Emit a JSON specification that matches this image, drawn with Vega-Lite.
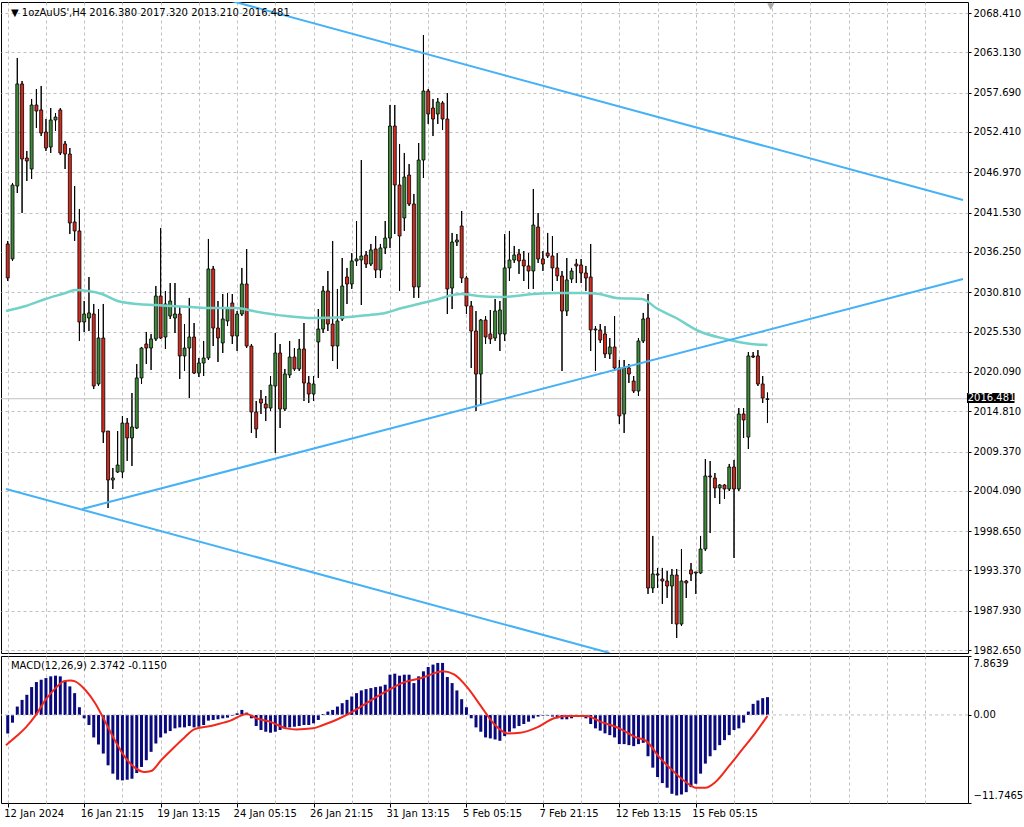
{
"$schema":"https://vega.github.io/schema/vega-lite/v6.json",
"padding":{"left":0,"top":1,"right":0,"bottom":0},
"background":"white",
"bounds":"flush",
"spacing":3,
"config":{"view":{"stroke":"#000","strokeWidth":1},"axis":{"labelFont":"DejaVu Sans","labelFontSize":10,"labelColor":"#000","gridColor":"#c0c0c0","gridDash":[3,3],"gridWidth":1,"tickColor":"#000","domain":false,"labelFlush":false,"labelOverlap":false}},
"datasets":{
"bars":[
{"bar":0,"o":2037.32,"h":2037.72,"l":2032.33,"c":2032.74,"m":-2.46},
{"bar":1,"o":2035.30,"h":2045.53,"l":2035.03,"c":2045.26,"m":-1.03},
{"bar":2,"o":2045.12,"h":2062.36,"l":2044.18,"c":2058.86,"m":1.12},
{"bar":3,"o":2058.86,"h":2059.26,"l":2041.49,"c":2048.76,"m":2.01},
{"bar":4,"o":2048.89,"h":2049.84,"l":2045.80,"c":2048.49,"m":2.69},
{"bar":5,"o":2047.41,"h":2056.84,"l":2046.07,"c":2056.03,"m":3.72},
{"bar":6,"o":2056.03,"h":2058.18,"l":2052.93,"c":2055.22,"m":4.39},
{"bar":7,"o":2055.36,"h":2058.59,"l":2051.85,"c":2052.26,"m":4.70},
{"bar":8,"o":2052.39,"h":2054.14,"l":2049.84,"c":2050.24,"m":4.92},
{"bar":9,"o":2050.37,"h":2055.62,"l":2049.57,"c":2054.01,"m":5.15},
{"bar":10,"o":2054.01,"h":2054.95,"l":2052.53,"c":2054.41,"m":5.24},
{"bar":11,"o":2055.36,"h":2055.62,"l":2049.30,"c":2049.57,"m":5.15},
{"bar":12,"o":2050.78,"h":2051.18,"l":2047.41,"c":2049.43,"m":4.61},
{"bar":13,"o":2049.43,"h":2050.24,"l":2038.66,"c":2040.14,"m":3.81},
{"bar":14,"o":2040.28,"h":2045.12,"l":2037.72,"c":2039.07,"m":2.91},
{"bar":15,"o":2039.07,"h":2042.03,"l":2024.26,"c":2026.81,"m":1.03},
{"bar":16,"o":2026.81,"h":2029.64,"l":2025.47,"c":2027.89,"m":-0.45},
{"bar":17,"o":2027.35,"h":2032.87,"l":2025.60,"c":2028.03,"m":-1.34},
{"bar":18,"o":2027.89,"h":2029.24,"l":2017.79,"c":2018.20,"m":-3.00},
{"bar":19,"o":2018.47,"h":2028.56,"l":2018.20,"c":2024.66,"m":-3.94},
{"bar":20,"o":2024.66,"h":2029.24,"l":2010.52,"c":2012.00,"m":-5.15},
{"bar":21,"o":2012.14,"h":2012.14,"l":2001.77,"c":2005.54,"m":-6.72},
{"bar":22,"o":2005.54,"h":2007.16,"l":2004.33,"c":2005.81,"m":-7.83},
{"bar":23,"o":2006.62,"h":2012.14,"l":2006.48,"c":2007.56,"m":-8.64},
{"bar":24,"o":2006.62,"h":2014.16,"l":2005.81,"c":2013.21,"m":-8.73},
{"bar":25,"o":2013.21,"h":2013.89,"l":2008.10,"c":2011.20,"m":-8.64},
{"bar":26,"o":2011.20,"h":2017.25,"l":2007.43,"c":2012.68,"m":-8.51},
{"bar":27,"o":2012.54,"h":2021.16,"l":2012.41,"c":2019.28,"m":-7.75},
{"bar":28,"o":2019.28,"h":2023.45,"l":2018.47,"c":2023.31,"m":-6.94},
{"bar":29,"o":2023.85,"h":2025.47,"l":2021.16,"c":2023.31,"m":-6.04},
{"bar":30,"o":2023.31,"h":2025.20,"l":2020.35,"c":2024.53,"m":-4.92},
{"bar":31,"o":2024.53,"h":2031.66,"l":2024.26,"c":2030.31,"m":-3.81},
{"bar":32,"o":2030.31,"h":2039.47,"l":2024.53,"c":2024.66,"m":-3.00},
{"bar":33,"o":2024.79,"h":2030.99,"l":2023.18,"c":2029.24,"m":-2.46},
{"bar":34,"o":2027.62,"h":2032.06,"l":2027.22,"c":2029.64,"m":-2.15},
{"bar":35,"o":2027.35,"h":2032.06,"l":2025.33,"c":2027.89,"m":-1.79},
{"bar":36,"o":2027.89,"h":2028.97,"l":2019.14,"c":2022.24,"m":-1.66},
{"bar":37,"o":2022.24,"h":2026.54,"l":2020.22,"c":2023.31,"m":-1.66},
{"bar":38,"o":2023.31,"h":2030.05,"l":2016.58,"c":2024.79,"m":-1.48},
{"bar":39,"o":2024.79,"h":2026.68,"l":2019.81,"c":2019.95,"m":-1.66},
{"bar":40,"o":2019.95,"h":2021.97,"l":2019.41,"c":2021.29,"m":-1.57},
{"bar":41,"o":2021.29,"h":2024.26,"l":2019.54,"c":2021.97,"m":-1.34},
{"bar":42,"o":2021.97,"h":2037.99,"l":2021.70,"c":2033.95,"m":-0.76},
{"bar":43,"o":2033.95,"h":2034.36,"l":2023.58,"c":2026.00,"m":-0.67},
{"bar":44,"o":2026.00,"h":2029.64,"l":2021.43,"c":2024.66,"m":-0.58},
{"bar":45,"o":2023.99,"h":2030.58,"l":2022.64,"c":2027.22,"m":-0.45},
{"bar":46,"o":2026.95,"h":2030.72,"l":2026.27,"c":2028.70,"m":-0.36},
{"bar":47,"o":2029.37,"h":2030.58,"l":2023.85,"c":2024.93,"m":-0.09},
{"bar":48,"o":2024.93,"h":2028.29,"l":2022.91,"c":2027.89,"m":0.22},
{"bar":49,"o":2027.89,"h":2034.09,"l":2027.62,"c":2031.93,"m":0.67},
{"bar":50,"o":2031.93,"h":2036.64,"l":2023.31,"c":2023.58,"m":0.31},
{"bar":51,"o":2023.58,"h":2023.85,"l":2011.87,"c":2014.70,"m":-0.45},
{"bar":52,"o":2014.70,"h":2016.18,"l":2011.20,"c":2012.41,"m":-1.48},
{"bar":53,"o":2016.45,"h":2017.66,"l":2014.43,"c":2015.91,"m":-2.01},
{"bar":54,"o":2015.77,"h":2016.85,"l":2013.48,"c":2015.23,"m":-2.24},
{"bar":55,"o":2015.23,"h":2019.54,"l":2014.83,"c":2018.33,"m":-2.37},
{"bar":56,"o":2018.20,"h":2025.33,"l":2009.18,"c":2022.64,"m":-2.24},
{"bar":57,"o":2022.64,"h":2023.85,"l":2012.54,"c":2015.10,"m":-2.01},
{"bar":58,"o":2015.10,"h":2020.49,"l":2014.83,"c":2019.81,"m":-1.79},
{"bar":59,"o":2019.68,"h":2024.26,"l":2019.28,"c":2022.10,"m":-1.66},
{"bar":60,"o":2022.10,"h":2023.31,"l":2020.22,"c":2020.49,"m":-1.57},
{"bar":61,"o":2020.49,"h":2024.53,"l":2020.22,"c":2023.18,"m":-1.48},
{"bar":62,"o":2023.18,"h":2026.68,"l":2016.18,"c":2018.60,"m":-1.34},
{"bar":63,"o":2018.60,"h":2019.54,"l":2015.91,"c":2017.12,"m":-1.34},
{"bar":64,"o":2017.12,"h":2019.54,"l":2016.18,"c":2018.47,"m":-1.12},
{"bar":65,"o":2024.12,"h":2028.56,"l":2019.28,"c":2025.87,"m":-0.67},
{"bar":66,"o":2025.87,"h":2031.66,"l":2025.33,"c":2030.99,"m":0.13},
{"bar":67,"o":2030.99,"h":2033.68,"l":2025.60,"c":2026.54,"m":0.45},
{"bar":68,"o":2026.54,"h":2037.72,"l":2021.56,"c":2023.58,"m":0.67},
{"bar":69,"o":2023.58,"h":2031.26,"l":2020.49,"c":2026.95,"m":1.12},
{"bar":70,"o":2027.22,"h":2035.43,"l":2026.95,"c":2031.66,"m":1.57},
{"bar":71,"o":2032.87,"h":2034.09,"l":2029.24,"c":2031.93,"m":2.01},
{"bar":72,"o":2031.93,"h":2036.10,"l":2031.26,"c":2035.03,"m":2.46},
{"bar":73,"o":2035.03,"h":2040.41,"l":2034.36,"c":2035.30,"m":2.91},
{"bar":74,"o":2035.16,"h":2048.62,"l":2029.10,"c":2035.70,"m":3.27},
{"bar":75,"o":2035.83,"h":2036.37,"l":2034.09,"c":2034.62,"m":3.45},
{"bar":76,"o":2034.62,"h":2037.32,"l":2034.36,"c":2036.51,"m":3.58},
{"bar":77,"o":2036.64,"h":2038.39,"l":2032.74,"c":2033.82,"m":3.72},
{"bar":78,"o":2033.82,"h":2037.32,"l":2032.74,"c":2036.78,"m":3.81},
{"bar":79,"o":2036.78,"h":2040.41,"l":2035.97,"c":2038.12,"m":4.03},
{"bar":80,"o":2038.12,"h":2056.03,"l":2036.78,"c":2053.20,"m":5.37},
{"bar":81,"o":2053.20,"h":2056.03,"l":2038.66,"c":2045.26,"m":5.51},
{"bar":82,"o":2045.26,"h":2050.78,"l":2030.99,"c":2038.39,"m":5.24},
{"bar":83,"o":2040.82,"h":2049.57,"l":2039.07,"c":2046.33,"m":5.37},
{"bar":84,"o":2046.60,"h":2048.08,"l":2042.43,"c":2042.70,"m":5.37},
{"bar":85,"o":2042.70,"h":2044.05,"l":2030.05,"c":2031.53,"m":4.25},
{"bar":86,"o":2031.53,"h":2050.91,"l":2030.05,"c":2048.62,"m":5.15},
{"bar":87,"o":2048.62,"h":2065.45,"l":2046.20,"c":2057.91,"m":5.82},
{"bar":88,"o":2057.91,"h":2058.18,"l":2053.47,"c":2054.82,"m":6.40},
{"bar":89,"o":2055.62,"h":2056.84,"l":2051.85,"c":2054.14,"m":6.72},
{"bar":90,"o":2054.82,"h":2056.97,"l":2053.47,"c":2056.43,"m":6.94},
{"bar":91,"o":2056.30,"h":2056.57,"l":2052.66,"c":2054.14,"m":6.94},
{"bar":92,"o":2054.14,"h":2057.64,"l":2027.89,"c":2031.26,"m":5.06},
{"bar":93,"o":2031.39,"h":2038.80,"l":2028.56,"c":2037.58,"m":4.25},
{"bar":94,"o":2037.58,"h":2038.66,"l":2037.05,"c":2037.85,"m":3.27},
{"bar":95,"o":2039.74,"h":2041.76,"l":2032.06,"c":2032.74,"m":2.10},
{"bar":96,"o":2032.74,"h":2033.01,"l":2027.89,"c":2028.97,"m":1.03},
{"bar":97,"o":2028.97,"h":2029.64,"l":2020.62,"c":2025.60,"m":-0.45},
{"bar":98,"o":2025.60,"h":2028.29,"l":2014.83,"c":2019.81,"m":-1.66},
{"bar":99,"o":2019.81,"h":2027.22,"l":2015.77,"c":2027.08,"m":-2.24},
{"bar":100,"o":2027.08,"h":2027.62,"l":2023.85,"c":2024.79,"m":-3.00},
{"bar":101,"o":2025.20,"h":2028.43,"l":2023.85,"c":2024.53,"m":-3.13},
{"bar":102,"o":2024.66,"h":2029.91,"l":2024.26,"c":2028.29,"m":-3.27},
{"bar":103,"o":2025.20,"h":2029.64,"l":2022.91,"c":2028.43,"m":-3.45},
{"bar":104,"o":2025.20,"h":2038.66,"l":2024.26,"c":2034.09,"m":-2.82},
{"bar":105,"o":2034.09,"h":2039.07,"l":2032.33,"c":2035.16,"m":-2.24},
{"bar":106,"o":2035.16,"h":2037.05,"l":2034.76,"c":2035.83,"m":-1.79},
{"bar":107,"o":2035.97,"h":2036.64,"l":2033.28,"c":2035.03,"m":-1.48},
{"bar":108,"o":2035.16,"h":2036.37,"l":2032.33,"c":2034.36,"m":-1.21},
{"bar":109,"o":2034.36,"h":2036.10,"l":2031.26,"c":2033.68,"m":-0.90},
{"bar":110,"o":2033.68,"h":2044.72,"l":2031.26,"c":2039.87,"m":-0.45},
{"bar":111,"o":2039.60,"h":2041.49,"l":2034.76,"c":2035.30,"m":-0.22},
{"bar":112,"o":2035.30,"h":2036.37,"l":2033.68,"c":2034.62,"m":-0.09},
{"bar":113,"o":2036.10,"h":2038.80,"l":2035.43,"c":2035.70,"m":-0.09},
{"bar":114,"o":2035.70,"h":2038.39,"l":2030.99,"c":2034.09,"m":-0.22},
{"bar":115,"o":2034.09,"h":2036.10,"l":2032.33,"c":2033.01,"m":-0.45},
{"bar":116,"o":2033.01,"h":2033.68,"l":2020.22,"c":2028.29,"m":-0.58},
{"bar":117,"o":2028.29,"h":2035.43,"l":2027.62,"c":2032.47,"m":-0.58},
{"bar":118,"o":2032.60,"h":2034.09,"l":2032.06,"c":2033.68,"m":-0.45},
{"bar":119,"o":2034.62,"h":2035.30,"l":2032.06,"c":2034.36,"m":-0.22},
{"bar":120,"o":2034.49,"h":2035.30,"l":2032.06,"c":2033.41,"m":-0.22},
{"bar":121,"o":2033.41,"h":2034.36,"l":2030.99,"c":2032.74,"m":-0.45},
{"bar":122,"o":2032.87,"h":2037.32,"l":2022.91,"c":2025.74,"m":-1.21},
{"bar":123,"o":2025.74,"h":2026.27,"l":2020.22,"c":2025.87,"m":-1.79},
{"bar":124,"o":2025.74,"h":2026.54,"l":2023.99,"c":2024.39,"m":-2.10},
{"bar":125,"o":2025.20,"h":2026.27,"l":2021.97,"c":2022.51,"m":-2.46},
{"bar":126,"o":2022.51,"h":2024.66,"l":2021.83,"c":2023.45,"m":-2.69},
{"bar":127,"o":2023.45,"h":2027.62,"l":2020.22,"c":2020.62,"m":-3.00},
{"bar":128,"o":2020.62,"h":2021.70,"l":2013.08,"c":2014.16,"m":-3.89},
{"bar":129,"o":2014.43,"h":2021.70,"l":2011.87,"c":2020.62,"m":-3.89},
{"bar":130,"o":2020.62,"h":2021.16,"l":2018.60,"c":2019.81,"m":-4.03},
{"bar":131,"o":2018.87,"h":2019.54,"l":2017.25,"c":2017.52,"m":-4.16},
{"bar":132,"o":2017.52,"h":2024.66,"l":2016.85,"c":2024.26,"m":-3.89},
{"bar":133,"o":2024.26,"h":2028.03,"l":2023.99,"c":2027.22,"m":-3.72},
{"bar":134,"o":2027.35,"h":2030.58,"l":1990.20,"c":1991.00,"m":-5.51},
{"bar":135,"o":1991.00,"h":1998.01,"l":1990.33,"c":1992.89,"m":-7.03},
{"bar":136,"o":1992.89,"h":1993.70,"l":1991.00,"c":1992.75,"m":-8.28},
{"bar":137,"o":1992.21,"h":1993.70,"l":1988.85,"c":1991.94,"m":-9.09},
{"bar":138,"o":1991.94,"h":1993.29,"l":1989.66,"c":1991.27,"m":-9.71},
{"bar":139,"o":1991.27,"h":1993.56,"l":1986.15,"c":1992.75,"m":-10.52},
{"bar":140,"o":1992.75,"h":1993.56,"l":1984.27,"c":1986.15,"m":-10.74},
{"bar":141,"o":1986.15,"h":1996.25,"l":1985.88,"c":1991.94,"m":-10.61},
{"bar":142,"o":1991.94,"h":1992.08,"l":1989.66,"c":1991.68,"m":-10.30},
{"bar":143,"o":1993.43,"h":1994.37,"l":1991.94,"c":1992.89,"m":-9.63},
{"bar":144,"o":1993.02,"h":1993.16,"l":1990.20,"c":1993.16,"m":-9.18},
{"bar":145,"o":1993.02,"h":1998.01,"l":1992.89,"c":1996.25,"m":-7.83},
{"bar":146,"o":1996.25,"h":2008.37,"l":1995.98,"c":2006.08,"m":-6.49},
{"bar":147,"o":2006.08,"h":2008.10,"l":1998.41,"c":2005.95,"m":-5.51},
{"bar":148,"o":2005.81,"h":2006.48,"l":2003.12,"c":2004.47,"m":-4.70},
{"bar":149,"o":2004.47,"h":2005.00,"l":2002.31,"c":2004.87,"m":-4.03},
{"bar":150,"o":2004.87,"h":2005.00,"l":2003.00,"c":2004.33,"m":-3.36},
{"bar":151,"o":2004.33,"h":2007.70,"l":2004.06,"c":2007.29,"m":-2.69},
{"bar":152,"o":2007.29,"h":2008.24,"l":1995.04,"c":2004.33,"m":-2.01},
{"bar":153,"o":2004.33,"h":2015.23,"l":2004.06,"c":2014.43,"m":-1.79},
{"bar":154,"o":2014.43,"h":2015.23,"l":2011.20,"c":2013.62,"m":-1.03},
{"bar":155,"o":2011.33,"h":2022.77,"l":2009.71,"c":2022.24,"m":0.45},
{"bar":156,"o":2022.24,"h":2022.77,"l":2021.97,"c":2022.10,"m":1.48},
{"bar":157,"o":2022.24,"h":2023.04,"l":2018.20,"c":2018.47,"m":1.93},
{"bar":158,"o":2018.47,"h":2019.54,"l":2015.91,"c":2016.58,"m":2.24},
{"bar":159,"o":2016.38,"h":2017.32,"l":2013.21,"c":2016.481,"m":2.3742}
],
"ma":[
{"bar":-0.36,"v":2028.29},{"bar":3.8,"v":2028.97},{"bar":7.9,"v":2029.91},{"bar":12.1,"v":2030.72},{"bar":14.1,"v":2031.12},{"bar":16.8,"v":2030.99},{"bar":19.7,"v":2030.58},{"bar":23.0,"v":2029.64},{"bar":27.2,"v":2029.24},{"bar":30.7,"v":2029.10},{"bar":34.2,"v":2028.97},{"bar":38.4,"v":2028.83},{"bar":42.5,"v":2028.70},{"bar":47.9,"v":2028.70},{"bar":51.4,"v":2028.29},{"bar":58.3,"v":2027.62},{"bar":63.8,"v":2027.35},{"bar":71.5,"v":2027.49},{"bar":75.7,"v":2027.76},{"bar":79,"v":2028.03},{"bar":82.5,"v":2028.70},{"bar":86,"v":2029.24},{"bar":90.2,"v":2029.91},{"bar":92.2,"v":2030.31},{"bar":94.9,"v":2030.58},{"bar":98.4,"v":2030.31},{"bar":103.2,"v":2030.18},{"bar":110,"v":2030.58},{"bar":115,"v":2030.72},{"bar":120.4,"v":2030.72},{"bar":123.9,"v":2030.58},{"bar":127.4,"v":2030.05},{"bar":132.8,"v":2029.91},{"bar":135.7,"v":2028.70},{"bar":139.9,"v":2027.35},{"bar":144.6,"v":2025.60},{"bar":150.2,"v":2024.53},{"bar":155.6,"v":2023.85},{"bar":159,"v":2023.72}
],
"trend":[
{"line":"a","bar":46.86,"v":2070.03},{"line":"a","bar":199.92,"v":2043.24},
{"line":"b","bar":15.59,"v":2001.64},{"line":"b","bar":199.92,"v":2032.60},
{"line":"c","bar":-0.36,"v":2004.33},{"line":"c","bar":125.98,"v":1982.25}
],
"signal":[
{"bar":-0.36,"v":-4.03},{"bar":1.7,"v":-2.91},{"bar":3.8,"v":-1.66},{"bar":5.9,"v":0.0},{"bar":7.9,"v":2.01},{"bar":10,"v":3.58},{"bar":11.7,"v":4.48},{"bar":13.1,"v":4.61},{"bar":14.1,"v":4.48},{"bar":16.2,"v":3.36},{"bar":18.3,"v":1.57},{"bar":20.4,"v":-0.9},{"bar":22.4,"v":-3.36},{"bar":24.5,"v":-5.6},{"bar":26.6,"v":-7.03},{"bar":28.6,"v":-7.61},{"bar":30,"v":-7.48},{"bar":32.1,"v":-6.04},{"bar":34.2,"v":-4.7},{"bar":37,"v":-3.0},{"bar":39,"v":-1.93},{"bar":42.4,"v":-1.48},{"bar":46.6,"v":-0.76},{"bar":50,"v":0.13},{"bar":52.1,"v":-0.45},{"bar":54.9,"v":-0.9},{"bar":58.3,"v":-1.79},{"bar":60.4,"v":-1.93},{"bar":63.9,"v":-1.79},{"bar":66,"v":-1.34},{"bar":68.7,"v":-0.67},{"bar":72.2,"v":0.45},{"bar":75.6,"v":1.79},{"bar":79.1,"v":3.1},{"bar":82.5,"v":4.25},{"bar":86.6,"v":4.92},{"bar":91.1,"v":5.82},{"bar":93.5,"v":5.37},{"bar":96.3,"v":3.58},{"bar":99.1,"v":1.12},{"bar":101.8,"v":-1.21},{"bar":104.6,"v":-2.46},{"bar":107.3,"v":-2.37},{"bar":110.8,"v":-1.66},{"bar":114.3,"v":-0.45},{"bar":117,"v":-0.13},{"bar":121.2,"v":-0.13},{"bar":124,"v":-0.9},{"bar":128,"v":-1.79},{"bar":131.5,"v":-3.0},{"bar":133.6,"v":-3.45},{"bar":136.3,"v":-5.6},{"bar":139.1,"v":-7.39},{"bar":141.9,"v":-8.95},{"bar":144,"v":-9.71},{"bar":146,"v":-9.71},{"bar":148.1,"v":-8.95},{"bar":150.8,"v":-6.94},{"bar":153.6,"v":-4.7},{"bar":156.4,"v":-2.46},{"bar":159,"v":-0.115}
]
},
"vconcat":[
{
"width":967,"height":651,
"data":{"name":"bars"},
"layer":[
{"mark":{"type":"rule","color":"#000","strokeWidth":1},
 "encoding":{"x":{"field":"bar","type":"quantitative","scale":{"domain":[-0.362,199.92],"nice":false,"zero":false},
   "axis":{"values":[0,8,16,24,32,40,48,56,64,72,80,88,96,104,112,120,128,136,144,152,160,168,176,184,192],"labels":false,"ticks":false,"title":null,"grid":true,"minExtent":0,"maxExtent":0}},
  "y":{"field":"l","type":"quantitative","scale":{"domain":[1982.25,2069.895],"nice":false,"zero":false},
   "axis":{"orient":"right","title":null,"values":[1982.65,1987.93,1993.37,1998.65,2004.09,2009.37,2014.81,2020.09,2025.53,2030.81,2036.25,2041.53,2046.97,2052.41,2057.69,2063.13,2068.41],"format":".3f","tickSize":3,"labelPadding":2,"grid":true}},
  "y2":{"field":"h"}}},
{"data":{"values":[{"v":2016.481}]},"mark":{"type":"rule","color":"#c0c0c0","strokeWidth":1},
 "encoding":{"y":{"field":"v","type":"quantitative","scale":{"domain":[1982.25,2069.895],"nice":false,"zero":false}}}},
{"mark":{"type":"rule","color":"#000","strokeWidth":1},
 "encoding":{"x":{"field":"bar","type":"quantitative","scale":{"domain":[-0.362,199.92],"nice":false,"zero":false}},
  "y":{"field":"l","type":"quantitative","scale":{"domain":[1982.25,2069.895],"nice":false,"zero":false}},
  "y2":{"field":"h"}}},
{"mark":{"type":"bar","width":3,"stroke":"#000","strokeWidth":0.8},
 "encoding":{"x":{"field":"bar","type":"quantitative","scale":{"domain":[-0.362,199.92],"nice":false,"zero":false}},
  "y":{"field":"o","type":"quantitative","scale":{"domain":[1982.25,2069.895],"nice":false,"zero":false}},
  "y2":{"field":"c"},
  "fill":{"condition":{"test":"datum.c >= datum.o","value":"#3d8b37"},"value":"#d42a1e"}}},
{"data":{"name":"ma"},"mark":{"type":"line","color":"#72d2c8","strokeWidth":2.5,"clip":true,"interpolate":"monotone"},
 "encoding":{"x":{"field":"bar","type":"quantitative","scale":{"domain":[-0.362,199.92],"nice":false,"zero":false}},
  "y":{"field":"v","type":"quantitative","scale":{"domain":[1982.25,2069.895],"nice":false,"zero":false}}}},
{"data":{"name":"trend"},"mark":{"type":"line","color":"#45b1f7","strokeWidth":2,"clip":true},
 "encoding":{"x":{"field":"bar","type":"quantitative","scale":{"domain":[-0.362,199.92],"nice":false,"zero":false}},
  "y":{"field":"v","type":"quantitative","scale":{"domain":[1982.25,2069.895],"nice":false,"zero":false}},
  "detail":{"field":"line","type":"nominal"}}},
{"data":{"values":[{"bar":0.67,"v":2068.45,"t":"▼  1ozAuUS',H4  2016.380 2017.320 2013.210 2016.481"}]},
 "mark":{"type":"text","align":"left","baseline":"middle","font":"DejaVu Sans","fontSize":10,"color":"#000"},
 "encoding":{"x":{"field":"bar","type":"quantitative","scale":{"domain":[-0.362,199.92],"nice":false,"zero":false}},
  "y":{"field":"v","type":"quantitative","scale":{"domain":[1982.25,2069.895],"nice":false,"zero":false}},
  "text":{"field":"t"}}},
{"data":{"values":[{"t":"▼","bar":159.7,"v":2069.895}]},
 "mark":{"type":"text","align":"center","baseline":"top","font":"DejaVu Sans","fontSize":9,"color":"#a8a8a8"},
 "encoding":{"x":{"field":"bar","type":"quantitative","scale":{"domain":[-0.362,199.92],"nice":false,"zero":false}},
  "y":{"field":"v","type":"quantitative","scale":{"domain":[1982.25,2069.895],"nice":false,"zero":false}},
  "text":{"field":"t"}}},
{"data":{"values":[{"b1":200.75,"b2":210.7,"p1":2015.91,"p2":2017.25}]},
 "mark":{"type":"rect","color":"#000","clip":false},
 "encoding":{"x":{"field":"b1","type":"quantitative","scale":{"domain":[-0.362,199.92],"nice":false,"zero":false}},
  "x2":{"field":"b2"},
  "y":{"field":"p1","type":"quantitative","scale":{"domain":[1982.25,2069.895],"nice":false,"zero":false}},
  "y2":{"field":"p2"}}},
{"data":{"values":[{"bar":200.9,"v":2016.58,"t":"2016.481"}]},
 "mark":{"type":"text","align":"left","baseline":"middle","font":"DejaVu Sans","fontSize":10,"color":"#fff","clip":false},
 "encoding":{"x":{"field":"bar","type":"quantitative","scale":{"domain":[-0.362,199.92],"nice":false,"zero":false}},
  "y":{"field":"v","type":"quantitative","scale":{"domain":[1982.25,2069.895],"nice":false,"zero":false}},
  "text":{"field":"t"}}}
]
},
{
"width":967,"height":147,
"data":{"name":"bars"},
"layer":[
{"mark":{"type":"bar","width":3,"color":"#0a0a7e"},
 "encoding":{"x":{"field":"bar","type":"quantitative","scale":{"domain":[-0.362,199.92],"nice":false,"zero":false},
   "axis":{"values":[0,8,16,24,32,40,48,56,64,72,80,88,96,104,112,120,128,136,144,152,160,168,176,184,192],"title":null,"grid":true,"labelAlign":"left","labelBaseline":"top","labelPadding":1,"labelOffset":-4,"tickSize":4,
    "tickOpacity":{"condition":{"test":"datum.value % 16 === 0 && datum.value <= 144","value":1},"value":0},
    "labelExpr":"datum.value == 0 ? '12 Jan 2024' : datum.value == 16 ? '16 Jan 21:15' : datum.value == 32 ? '19 Jan 13:15' : datum.value == 48 ? '24 Jan 05:15' : datum.value == 64 ? '26 Jan 21:15' : datum.value == 80 ? '31 Jan 13:15' : datum.value == 96 ? '5 Feb 05:15' : datum.value == 112 ? '7 Feb 21:15' : datum.value == 128 ? '12 Feb 13:15' : datum.value == 144 ? '15 Feb 05:15' : ''"}},
  "y":{"field":"m","type":"quantitative","scale":{"domain":[-11.7465,7.8639],"nice":false,"zero":false},
   "axis":{"orient":"right","title":null,"values":[-11.7465,0,7.8639],"tickSize":3,"labelPadding":2,"grid":false,
    "labelBaseline":{"condition":{"test":"datum.value > 1","value":"top"},"value":"middle"},
    "labelOffset":{"condition":[{"test":"datum.value < -1","value":-8},{"test":"datum.value > 1","value":2}],"value":0},
    "labelExpr":"datum.value == 0 ? '0.00' : format(datum.value, '.4f')"}},
  "y2":{"datum":0}}},
{"data":{"values":[{"v":0}]},"mark":{"type":"rule","color":"#c0c0c0","strokeDash":[3,3]},
 "encoding":{"y":{"field":"v","type":"quantitative","scale":{"domain":[-11.7465,7.8639],"nice":false,"zero":false}}}},
{"data":{"name":"signal"},"mark":{"type":"line","color":"#f2281c","strokeWidth":2,"clip":true,"interpolate":"monotone"},
 "encoding":{"x":{"field":"bar","type":"quantitative","scale":{"domain":[-0.362,199.92],"nice":false,"zero":false}},
  "y":{"field":"v","type":"quantitative","scale":{"domain":[-11.7465,7.8639],"nice":false,"zero":false}}}},
{"data":{"values":[{"bar":0.67,"v":6.5,"t":"MACD(12,26,9) 2.3742 -0.1150"}]},
 "mark":{"type":"text","align":"left","baseline":"middle","font":"DejaVu Sans","fontSize":10,"color":"#000"},
 "encoding":{"x":{"field":"bar","type":"quantitative","scale":{"domain":[-0.362,199.92],"nice":false,"zero":false}},
  "y":{"field":"v","type":"quantitative","scale":{"domain":[-11.7465,7.8639],"nice":false,"zero":false}},
  "text":{"field":"t"}}}
]
}
]
}
